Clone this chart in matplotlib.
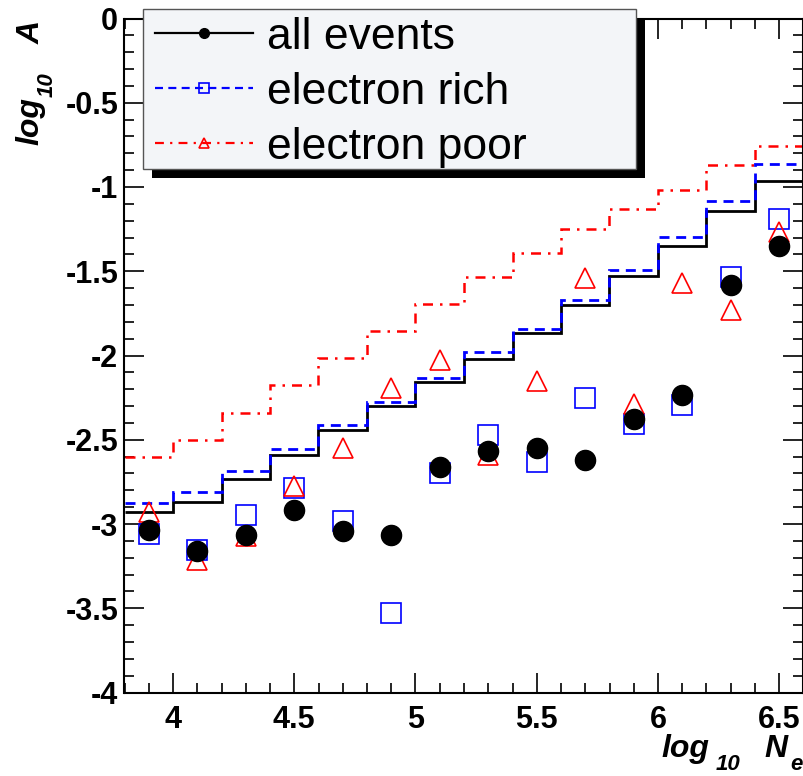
import matplotlib

matplotlib.use("Agg")
import matplotlib.pyplot as plt
from matplotlib.lines import Line2D
from matplotlib.patches import Rectangle
from matplotlib.ticker import FixedLocator, MultipleLocator

plt.rcParams["font.family"] = ["Liberation Sans", "DejaVu Sans"]

FIG_W, FIG_H = 804, 776

# histogram bins (log10 Ne)
bin_edges = [3.8, 4.0, 4.2, 4.4, 4.6, 4.8, 5.0, 5.2, 5.4, 5.6, 5.8, 6.0, 6.2, 6.4, 6.6]
bin_centers = [3.9, 4.1, 4.3, 4.5, 4.7, 4.9, 5.1, 5.3, 5.5, 5.7, 5.9, 6.1, 6.3, 6.5]

# step curves
all_hist = [-2.93, -2.87, -2.73, -2.59, -2.445, -2.30, -2.155, -2.02,
            -1.865, -1.70, -1.53, -1.35, -1.145, -0.967]
rich_hist = [-2.878, -2.813, -2.688, -2.552, -2.415, -2.273, -2.131, -1.982,
             -1.840, -1.668, -1.490, -1.294, -1.086, -0.866]
poor_hist = [-2.605, -2.504, -2.344, -2.178, -2.012, -1.852, -1.697, -1.537,
             -1.389, -1.252, -1.128, -1.015, -0.872, -0.754]

# measured points
all_points = [-3.037, -3.161, -3.068, -2.914, -3.039, -3.068, -2.661, -2.564,
              -2.546, -2.621, -2.376, -2.235, -1.579, -1.351]
rich_points = [-3.058, -3.157, -2.946, -2.785, -2.983, -3.527, -2.696, -2.469,
               -2.635, -2.251, -2.404, -2.295, -1.535, -1.188]
poor_points = [-2.926, -3.211, -3.074, -2.773, -2.547, -2.190, -2.024, -2.590,
               -2.154, -1.542, -2.288, -1.572, -1.729, -1.267]

series_labels = ["all events", "electron rich", "electron poor"]

x_ticks = [4.0, 4.5, 5.0, 5.5, 6.0, 6.5]
x_tick_labels = ["4", "4.5", "5", "5.5", "6", "6.5"]
y_ticks = [0.0, -0.5, -1.0, -1.5, -2.0, -2.5, -3.0, -3.5, -4.0]
y_tick_labels = ["0", "-0.5", "-1", "-1.5", "-2", "-2.5", "-3", "-3.5", "-4"]

BLUE = "#0000ff"
RED = "#ff0000"
RICH_LS = (0, (3.6, 2.4))
POOR_LS = (0, (4.0, 2.8, 1.0, 2.8))


def fig_xy(x, y):
    # pixel position (from top-left) to figure fraction
    return x / FIG_W, 1 - y / FIG_H


def main() -> None:
    fig = plt.figure(figsize=(FIG_W / 100, FIG_H / 100), dpi=100)
    ax = fig.add_axes([124.5 / FIG_W, 1 - 692.5 / FIG_H, 679 / FIG_W, 674 / FIG_H])

    ax.stairs(poor_hist, bin_edges, baseline=None, color=RED, lw=1.8,
              linestyle=POOR_LS, zorder=2)
    ax.stairs(rich_hist, bin_edges, baseline=None, color=BLUE, lw=2.0,
              linestyle=RICH_LS, zorder=2.2)
    ax.stairs(all_hist, bin_edges, baseline=None, color="black", lw=2.0,
              zorder=2.1)

    ax.plot(bin_centers, rich_points, ls="none", marker="s", ms=15,
            mfc="none", mec=BLUE, mew=1.2, zorder=3)
    ax.plot(bin_centers, poor_points, ls="none", marker="^", ms=15,
            mfc="none", mec=RED, mew=1.2, zorder=3.1)
    ax.plot(bin_centers, all_points, ls="none", marker="o", ms=14.5,
            mfc="black", mec="black", zorder=3.2)

    ax.set_xlim(3.8, 6.6)
    ax.set_ylim(-4.0, 0.0)

    ax.xaxis.set_major_locator(FixedLocator(x_ticks))
    ax.yaxis.set_major_locator(FixedLocator(y_ticks))
    ax.set_xticklabels(x_tick_labels)
    ax.set_yticklabels(y_tick_labels)
    ax.xaxis.set_minor_locator(MultipleLocator(0.1))
    ax.yaxis.set_minor_locator(MultipleLocator(0.1))
    ax.tick_params(which="both", direction="in", top=True, right=True,
                   width=1.2, colors="black")
    ax.tick_params(which="major", length=14.4, labelsize=22)
    ax.tick_params(which="minor", length=7.2)
    ax.tick_params(axis="x", which="major", pad=9)
    ax.tick_params(axis="y", which="major", pad=4.5)
    for lab in ax.get_xticklabels() + ax.get_yticklabels():
        lab.set_fontweight("bold")
    for spine in ax.spines.values():
        spine.set_linewidth(1.5)

    # legend box with ROOT-like shadow
    sx, sy = fig_xy(152, 178)
    ax.add_patch(Rectangle((sx, sy), 493 / FIG_W, 160 / FIG_H,
                           transform=fig.transFigure, facecolor="black",
                           edgecolor="none", clip_on=False, zorder=4.8))
    bx, by = fig_xy(143, 169)
    ax.add_patch(Rectangle((bx, by), 493 / FIG_W, 160 / FIG_H,
                           transform=fig.transFigure, facecolor="#f3f5f8",
                           edgecolor="#555555", lw=1.0, clip_on=False,
                           zorder=4.9))

    handles = [
        Line2D([], [], color="black", lw=1.6, marker="o", ms=7),
        Line2D([], [], color=BLUE, lw=1.6, linestyle=RICH_LS, marker="s",
               ms=7, mfc="none", mec=BLUE, mew=1.2),
        Line2D([], [], color=RED, lw=1.6, linestyle=POOR_LS, marker="^",
               ms=7, mfc="none", mec=RED, mew=1.2),
    ]
    leg = ax.legend(handles, series_labels, loc="upper left",
                    bbox_to_anchor=fig_xy(155, 17),
                    bbox_transform=fig.transFigure, frameon=False,
                    fontsize=32, borderpad=0, borderaxespad=0,
                    handlelength=2.2, handletextpad=0.33,
                    labelspacing=0.31)
    leg.set_zorder(5)

    # axis titles built from pieces (ROOT style subscripts)
    label_kw = dict(fontweight="bold", fontstyle="italic", color="black")
    fig.text(*fig_xy(661, 757), "log", fontsize=23, va="baseline", **label_kw)
    fig.text(*fig_xy(716, 770), "10", fontsize=16, va="baseline", **label_kw)
    fig.text(*fig_xy(764, 757), "N", fontsize=23, va="baseline", **label_kw)
    fig.text(*fig_xy(790, 770), "e", fontsize=16, va="baseline", **label_kw)

    rot_kw = dict(rotation=90, rotation_mode="anchor", ha="left",
                  va="baseline", **label_kw)
    fig.text(*fig_xy(38, 145), "log", fontsize=23, **rot_kw)
    fig.text(*fig_xy(53, 97), "10", fontsize=16, **rot_kw)
    fig.text(*fig_xy(40, 44), "A", fontsize=23, **rot_kw)

    fig.savefig("out.png", dpi=100)
    plt.close(fig)


if __name__ == "__main__":
    main()
